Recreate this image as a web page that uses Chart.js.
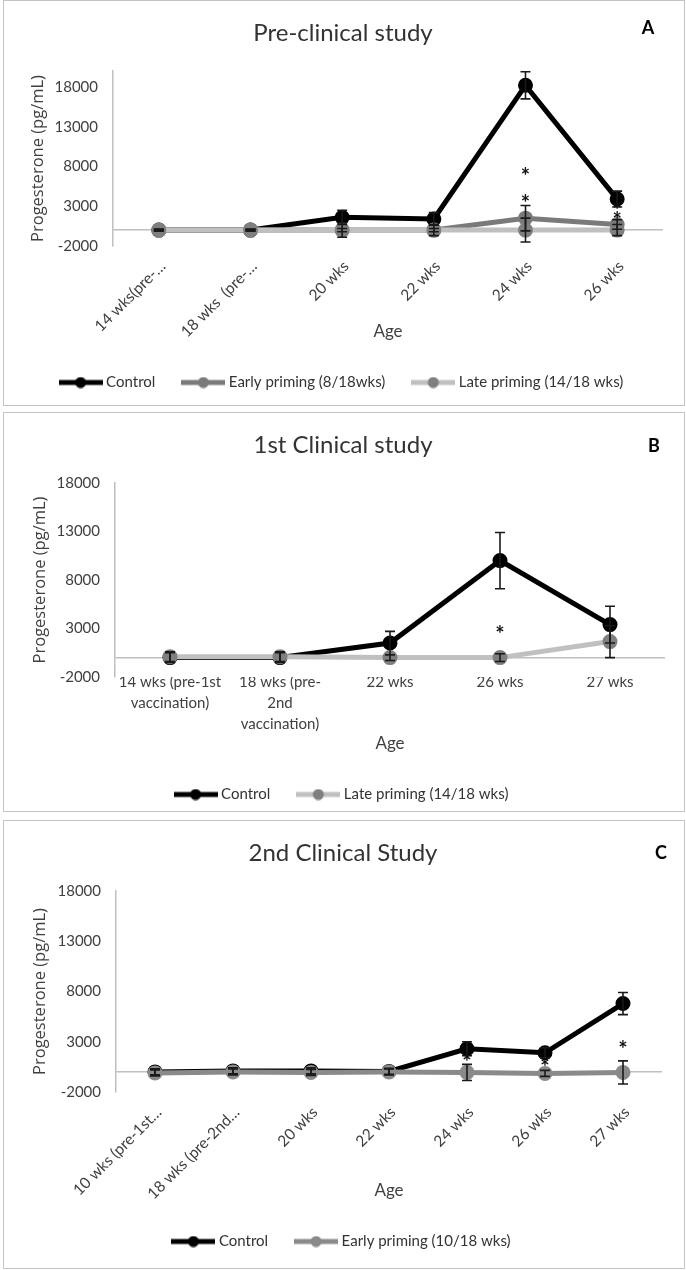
<!DOCTYPE html>
<html>
<head>
<meta charset="utf-8">
<script src="https://cdn.jsdelivr.net/npm/chart.js@4.4.0/dist/chart.umd.min.js"></script>
<style>
  body { margin: 0; background: #fff; width: 686px; height: 1270px; position: relative; overflow: hidden; }
  .frame { position: absolute; border: 1.5px solid #c4c4c4; box-sizing: border-box; }
  canvas { position: absolute; left: 0; }
</style>
</head>
<body>
<div class="frame" style="left:3px;top:0;width:682px;height:406px"></div>
<div class="frame" style="left:3px;top:412px;width:682px;height:400px"></div>
<div class="frame" style="left:3px;top:820px;width:682px;height:449px"></div>
<canvas id="chartA" width="686" height="400" style="top:0"></canvas>
<canvas id="chartB" width="686" height="407" style="top:405px"></canvas>
<canvas id="chartC" width="686" height="444" style="top:815px"></canvas>

<script>
// y ticks shared by all three panels (0 is only there for the baseline)
const yTicks = [-2000, 0, 3000, 8000, 13000, 18000];

// Panel A - pre-clinical study
const catsA = ['14 wks(pre-…', '18 wks  (pre-…', '20 wks', '22 wks', '24 wks', '26 wks'];
const controlA = [0, 0, 1600, 1400, 18200, 3900];
const controlAErr = [100, 100, 900, 800, 1700, 1000];
const earlyA = [0, 0, 0, 0, 1500, 700];
const earlyAErr = [100, 100, 200, 200, 1600, 600];
const lateA = [0, 0, 0, 0, 0, 0];
const lateAErr = [100, 100, 900, 700, 1500, 700];
const starsA = [[4, 7300], [4, 3950], [5, 3000], [5, 1800]];

// Panel B - 1st clinical study
const catsB = [['14 wks (pre-1st', 'vaccination)'], ['18 wks (pre-', '2nd', 'vaccination)'], '22 wks', '26 wks', '27 wks'];
const controlB = [0, 0, 1500, 10000, 3400];
const controlBErr = [500, 500, 1200, 2900, 1900];
const lateB = [100, 100, 0, 0, 1650];
const lateBErr = [500, 500, 300, 400, 1650];
const starsB = [[3, 2900]];

// Panel C - 2nd clinical study
const catsC = ['10 wks (pre-1st…', '18 wks (pre-2nd…', '20 wks', '22 wks', '24 wks', '26 wks', '27 wks'];
const controlC = [0, 100, 100, 50, 2300, 1900, 6800];
const controlCErr = [300, 300, 300, 300, 700, 500, 1100];
const earlyC = [-100, 0, -50, 0, -50, -150, -50];
const earlyCErr = [300, 300, 300, 300, 800, 300, 1150];
const starsC = [[4, 1400], [5, 850], [6, 2650]];

function legendIcon(lineColor, dotColor) {
    const c = document.createElement('canvas');
    c.width = 44; c.height = 12;
    const g = c.getContext('2d');
    g.strokeStyle = lineColor; g.lineWidth = 5;
    g.beginPath(); g.moveTo(0, 6); g.lineTo(44, 6); g.stroke();
    g.fillStyle = dotColor;
    g.beginPath(); g.arc(22, 6, 5.5, 0, Math.PI * 2); g.fill();
    return c;
}

// error bars, significance stars and the panel letter
const extras = {
    id: 'extras',
    afterDatasetsDraw(chart, args, opts) {
        const ctx = chart.ctx;
        const y = chart.scales.y;
        ctx.save();
        ctx.strokeStyle = '#1a1a1a';
        ctx.lineWidth = 1.6;
        opts.errors.forEach((errs, i) => {
            const meta = chart.getDatasetMeta(i);
            const vals = chart.data.datasets[i].data;
            meta.data.forEach((pt, j) => {
                const top = y.getPixelForValue(vals[j] + errs[j]);
                const bot = y.getPixelForValue(vals[j] - errs[j]);
                ctx.beginPath();
                ctx.moveTo(pt.x, top); ctx.lineTo(pt.x, bot);
                ctx.moveTo(pt.x - 5, top); ctx.lineTo(pt.x + 5, top);
                ctx.moveTo(pt.x - 5, bot); ctx.lineTo(pt.x + 5, bot);
                ctx.stroke();
            });
        });
        ctx.fillStyle = '#111';
        ctx.font = 'bold 22px Lato';
        ctx.textAlign = 'center';
        ctx.textBaseline = 'middle';
        opts.stars.forEach(([c, v]) => {
            ctx.fillText('*', chart.scales.x.getPixelForValue(c), y.getPixelForValue(v) + 5);
        });
        ctx.restore();
    },
    afterDraw(chart, args, opts) {
        const ctx = chart.ctx;
        ctx.save();
        ctx.fillStyle = '#000';
        ctx.font = 'bold 18px Lato';
        ctx.textAlign = 'center';
        ctx.textBaseline = 'middle';
        ctx.fillText(opts.letter, opts.letterX, opts.letterY);
        ctx.restore();
    }
};

function buildChart(id, p) {
    const datasets = p.series.map(s => ({
        label: s.label,
        data: s.data,
        borderColor: s.line,
        backgroundColor: s.dot,
        pointBackgroundColor: s.dot,
        pointBorderColor: s.dot,
        pointRadius: 5,
        pointHoverRadius: 5,
        borderWidth: 5,
        tension: 0,
        order: s.order
    }));
    return new Chart(document.getElementById(id), {
        type: 'line',
        data: { labels: p.labels, datasets: datasets },
        plugins: [extras],
        options: {
            responsive: false,
            animation: false,
            layout: { padding: 0 },
            plugins: {
                title: {
                    display: true,
                    text: p.title,
                    color: '#333',
                    font: { family: 'Lato', size: 24, weight: 'normal', lineHeight: 1.0 },
                    padding: { top: p.titleTop, bottom: p.titleBottom }
                },
                legend: {
                    position: 'bottom',
                    labels: {
                        usePointStyle: true,
                        pointStyleWidth: 36,
                        padding: 30,
                        color: '#333',
                        font: { family: 'Lato', size: 15, lineHeight: 1.0 },
                        sort: (a, b) => a.datasetIndex - b.datasetIndex,
                        generateLabels(chart) {
                            return Chart.defaults.plugins.legend.labels.generateLabels(chart).map(item => {
                                const ds = chart.data.datasets[item.datasetIndex];
                                item.pointStyle = legendIcon(ds.borderColor, ds.pointBackgroundColor);
                                return item;
                            });
                        }
                    }
                },
                tooltip: { enabled: false },
                extras: {
                    errors: p.series.map(s => s.err),
                    stars: p.stars,
                    letter: p.letter, letterX: p.letterX, letterY: p.letterY
                }
            },
            scales: {
                x: {
                    offset: true,
                    grid: { display: false },
                    border: { display: false },
                    ticks: {
                        autoSkip: false,
                        minRotation: p.rotation,
                        maxRotation: p.rotation,
                        padding: p.xPad,
                        labelOffset: p.xShift,
                        color: '#404040',
                        font: { family: 'Lato', size: p.xFont, lineHeight: 1.4 }
                    },
                    title: {
                        display: true,
                        text: 'Age',
                        color: '#404040',
                        font: { family: 'Lato', size: 17, lineHeight: 1.0 },
                        padding: { top: 0, bottom: 4.5 }
                    },
                    afterFit(scale) {
                        scale.height = p.xHeight;
                        scale.paddingLeft = 0;
                        scale.paddingRight = p.padRight;
                    }
                },
                y: {
                    min: -2000,
                    max: p.yMax,
                    afterBuildTicks(scale) {
                        scale.ticks = yTicks.map(v => ({ value: v }));
                    },
                    ticks: {
                        padding: 15,
                        color: '#404040',
                        font: { family: 'Lato', size: 15 },
                        callback: v => (v === 0 ? '' : String(v))
                    },
                    grid: {
                        drawTicks: false,
                        lineWidth: 1.5,
                        color: c => (c.tick && c.tick.value === 0 ? '#bfbfbf' : 'rgba(0,0,0,0)')
                    },
                    border: { display: true, color: '#bfbfbf', width: 1.5 },
                    title: {
                        display: true,
                        text: 'Progesterone (pg/mL)',
                        color: '#404040',
                        font: { family: 'Open Sans', size: 16.5, lineHeight: 1.0 },
                        padding: { top: p.yTitlePad, bottom: 0 }
                    },
                    afterFit(scale) {
                        scale.width = p.axisLeft;
                    }
                }
            }
        }
    });
}

// title block: top pad + 24 + bottom pad = plot top
buildChart('chartA', {
    title: 'Pre-clinical study', titleTop: 21, titleBottom: 26,
    labels: catsA, rotation: 45, xPad: 2, xShift: 4, xFont: 15.5, xHeight: 99,
    axisLeft: 113, padRight: 23, yMax: 20000, yTitlePad: 30,
    letter: 'A', letterX: 648, letterY: 28,
    stars: starsA,
    series: [
        { label: 'Control', data: controlA, err: controlAErr, line: '#000000', dot: '#000000', order: 3 },
        { label: 'Early priming (8/18wks)', data: earlyA, err: earlyAErr, line: '#7a7a7a', dot: '#7a7a7a', order: 2 },
        { label: 'Late priming (14/18 wks)', data: lateA, err: lateAErr, line: '#c0c0c0', dot: '#7f7f7f', order: 1 }
    ]
});

buildChart('chartB', {
    title: '1st Clinical study', titleTop: 28, titleBottom: 26,
    labels: catsB, rotation: 0, xPad: -13.5, xShift: 0, xFont: 15, xHeight: 80,
    axisLeft: 115, padRight: 21, yMax: 18000, yTitlePad: 32.5,
    letter: 'B', letterX: 654, letterY: 41,
    stars: starsB,
    series: [
        { label: 'Control', data: controlB, err: controlBErr, line: '#000000', dot: '#000000', order: 2 },
        { label: 'Late priming (14/18 wks)', data: lateB, err: lateBErr, line: '#c0c0c0', dot: '#7f7f7f', order: 1 }
    ]
});

buildChart('chartC', {
    title: '2nd Clinical Study', titleTop: 26, titleBottom: 26,
    labels: catsC, rotation: 45, xPad: 2, xShift: 4, xFont: 15.5, xHeight: 112,
    axisLeft: 116, padRight: 24, yMax: 18000, yTitlePad: 32,
    letter: 'C', letterX: 661, letterY: 38,
    stars: starsC,
    series: [
        { label: 'Control', data: controlC, err: controlCErr, line: '#000000', dot: '#000000', order: 2 },
        { label: 'Early priming (10/18 wks)', data: earlyC, err: earlyCErr, line: '#8a8a8a', dot: '#8a8a8a', order: 1 }
    ]
});
</script>
</body>
</html>
